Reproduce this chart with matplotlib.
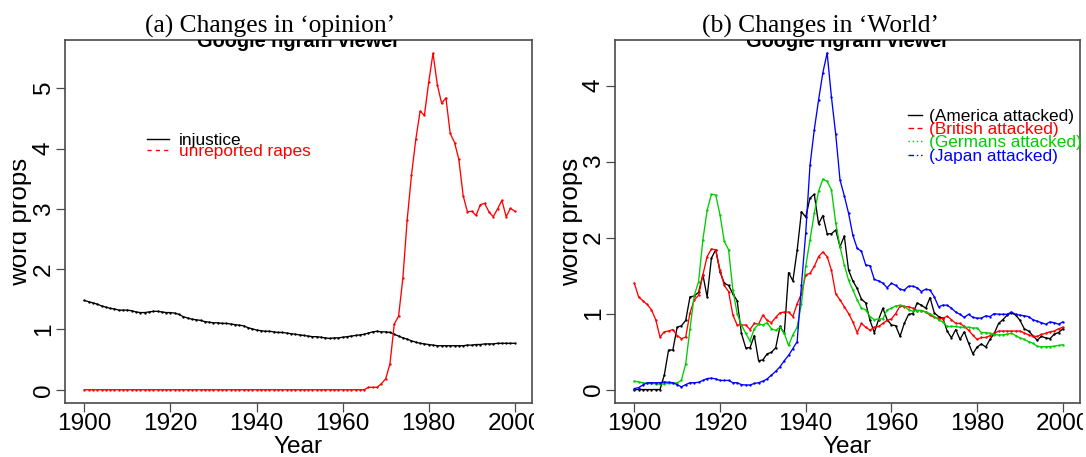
import matplotlib
matplotlib.use("Agg")
import matplotlib.pyplot as plt
from matplotlib.lines import Line2D
from matplotlib.patches import Rectangle

# ---------------------------------------------------------------- data
years = list(range(1900, 2001))

injustice = [
    1.48, 1.46, 1.44, 1.42, 1.39, 1.37, 1.35, 1.34, 1.32, 1.32,
    1.32, 1.31, 1.29, 1.28, 1.28, 1.29, 1.30, 1.30, 1.29, 1.28,
    1.28, 1.27, 1.25, 1.21, 1.19, 1.17, 1.16, 1.15, 1.13, 1.12,
    1.11, 1.11, 1.10, 1.10, 1.09, 1.08, 1.07, 1.06, 1.03, 1.01,
    0.99, 0.98, 0.97, 0.97, 0.96, 0.95, 0.95, 0.94, 0.93, 0.92,
    0.91, 0.90, 0.89, 0.88, 0.88, 0.87, 0.86, 0.85, 0.86, 0.86,
    0.87, 0.88, 0.89, 0.90, 0.91, 0.92, 0.94, 0.96, 0.97, 0.96,
    0.96, 0.95, 0.92, 0.89, 0.86, 0.84, 0.81, 0.79, 0.77, 0.76,
    0.75, 0.74, 0.73, 0.73, 0.73, 0.73, 0.73, 0.73, 0.73, 0.74,
    0.74, 0.75, 0.75, 0.76, 0.76, 0.76, 0.77, 0.77, 0.77, 0.77,
    0.77,
]

unreported_rapes = [0.0] * 66 + [
    0.04, 0.04, 0.04, 0.10,
    0.18, 0.43, 1.09, 1.22, 1.85, 2.82, 3.56, 4.15, 4.62, 4.55,
    5.10, 5.58, 5.06, 4.75, 4.84, 4.25, 4.10, 3.82, 3.22, 2.95,
    2.96, 2.89, 3.07, 3.09, 2.95, 2.87, 3.00, 3.14, 2.87, 3.01,
    2.96,
]

america_attacked = [
    0.00, 0.00, 0.00, 0.00, 0.00, 0.00, 0.00, 0.19, 0.52, 0.52,
    0.82, 0.84, 0.91, 1.22, 1.23, 1.28, 1.51, 1.22, 1.73, 1.84,
    1.55, 1.40, 1.37, 1.26, 1.17, 0.74, 0.55, 0.55, 0.71, 0.38,
    0.39, 0.47, 0.49, 0.55, 0.83, 0.74, 1.54, 1.43, 1.83, 2.34,
    2.27, 2.52, 2.57, 2.18, 2.29, 2.05, 2.05, 2.10, 1.88, 2.02,
    1.57, 1.43, 1.33, 1.19, 1.14, 0.91, 0.75, 0.92, 1.07, 0.92,
    0.85, 0.84, 0.70, 0.87, 0.99, 1.00, 1.14, 1.11, 1.07, 1.21,
    1.01, 0.96, 0.94, 0.77, 0.68, 0.79, 0.66, 0.76, 0.61, 0.47,
    0.56, 0.60, 0.56, 0.66, 0.74, 0.87, 0.92, 0.98, 1.01, 0.98,
    0.91, 0.80, 0.77, 0.71, 0.65, 0.70, 0.68, 0.67, 0.73, 0.75,
    0.80,
]

british_attacked = [
    1.40, 1.22, 1.17, 1.12, 1.05, 0.92, 0.69, 0.76, 0.77, 0.79,
    0.71, 0.67, 0.69, 1.01, 1.18, 1.24, 1.51, 1.75, 1.85, 1.84,
    1.57, 1.37, 1.29, 0.98, 0.85, 0.85, 0.85, 0.79, 0.87, 0.86,
    0.98, 0.91, 0.88, 0.95, 1.01, 1.02, 1.02, 0.96, 1.13, 1.26,
    1.51, 1.53, 1.62, 1.75, 1.81, 1.75, 1.57, 1.26, 1.18, 1.09,
    1.00, 0.89, 0.75, 0.87, 0.82, 0.78, 0.82, 0.83, 0.87, 0.91,
    0.93, 1.00, 1.10, 1.09, 1.09, 1.07, 1.04, 1.04, 1.02, 0.98,
    0.95, 0.935, 0.935, 0.965, 0.92, 0.87, 0.87, 0.83, 0.78, 0.715,
    0.66, 0.685, 0.685, 0.71, 0.74, 0.77, 0.77, 0.77, 0.77, 0.77,
    0.77, 0.745, 0.72, 0.70, 0.70, 0.725, 0.74, 0.76, 0.77, 0.80,
    0.82,
]

germans_attacked = [
    0.11, 0.10, 0.09, 0.08, 0.08, 0.075, 0.07, 0.075, 0.08, 0.08,
    0.09, 0.12, 0.34, 0.80, 1.24, 1.42, 1.97, 2.36, 2.57, 2.56,
    2.30, 1.95, 1.84, 1.31, 1.00, 0.85, 0.74, 0.64, 0.80, 0.86,
    0.85, 0.88, 0.80, 0.78, 0.82, 0.74, 0.58, 0.72, 0.82, 1.13,
    1.62, 1.97, 2.32, 2.61, 2.77, 2.74, 2.63, 2.19, 1.88, 1.64,
    1.44, 1.31, 1.18, 1.07, 1.05, 0.96, 0.92, 0.93, 0.93, 1.05,
    1.07, 1.10, 1.11, 1.10, 1.05, 1.03, 1.04, 1.04, 1.02, 1.00,
    0.96, 0.92, 0.89, 0.83, 0.83, 0.83, 0.82, 0.82, 0.82, 0.81,
    0.81, 0.75, 0.75, 0.74, 0.72, 0.72, 0.72, 0.73, 0.74, 0.71,
    0.68, 0.66, 0.63, 0.61, 0.57, 0.56, 0.565, 0.565, 0.57, 0.58,
    0.59,
]

japan_attacked = [
    0.013, 0.025, 0.06, 0.09, 0.09, 0.09, 0.09, 0.10, 0.095, 0.09,
    0.065, 0.035, 0.065, 0.09, 0.09, 0.095, 0.12, 0.145, 0.15, 0.14,
    0.12, 0.12, 0.12, 0.09, 0.09, 0.065, 0.06, 0.06, 0.08, 0.09,
    0.11, 0.14, 0.19, 0.24, 0.30, 0.38, 0.45, 0.54, 0.63, 1.37,
    2.06, 2.95, 3.42, 3.81, 4.17, 4.43, 3.85, 3.36, 2.76, 2.55,
    2.32, 2.03, 1.86, 1.82, 1.64, 1.63, 1.45, 1.43, 1.40, 1.34,
    1.40, 1.37, 1.32, 1.31, 1.36, 1.36, 1.34, 1.29, 1.32, 1.31,
    1.22, 1.09, 1.11, 1.11, 1.07, 1.02, 0.99, 0.95, 0.99, 0.95,
    0.94, 0.94, 0.97, 0.96, 1.00, 0.99, 0.99, 0.99, 1.02, 0.99,
    0.98, 0.97, 0.96, 0.92, 0.90, 0.88, 0.86, 0.89, 0.88, 0.86,
    0.89,
]

x_ticks = [1900, 1920, 1940, 1960, 1980, 2000]
left_y_ticks = [0, 1, 2, 3, 4, 5]
right_y_ticks = [0, 1, 2, 3, 4]

left_series = [("injustice", injustice, "black", "-"),
               ("unreported rapes", unreported_rapes, "#FF0000", (0, (3, 3)))]
right_series = [("(America attacked)", america_attacked, "black", "-"),
                ("(British attacked)", british_attacked, "#FF0000", (0, (4, 2.5))),
                ("(Germans attacked)", germans_attacked, "#00CD00", (0, (1, 2))),
                ("(Japan attacked)", japan_attacked, "#0000FF", (0, (4, 2, 1, 2)))]

# ---------------------------------------------------------------- figure
W, H = 1086, 457
fig = plt.figure(figsize=(W / 100, H / 100), dpi=100)
SANS = "Liberation Sans"
SERIF = "Liberation Serif"
FRAME = "#4a4a4a"
TICK_FS = 17.6
LEG_FS = 12.4


def px_rect(x0, y0, x1, y1):
    return [x0 / W, 1 - y1 / H, (x1 - x0) / W, (y1 - y0) / H]


def style_axes(ax, yticks, ylim):
    ax.set_xlim(1895.5, 2004.0)
    ax.set_ylim(*ylim)
    ax.set_xticks(x_ticks)
    ax.set_xticklabels([str(t) for t in x_ticks])
    ax.set_yticks(yticks)
    ax.set_yticklabels([str(t) for t in yticks])
    for sp in ax.spines.values():
        sp.set_color(FRAME)
        sp.set_linewidth(1.2)
    ax.tick_params(axis="both", direction="out", length=6.5, width=0.9,
                   color=FRAME, labelsize=TICK_FS, pad=0.8)
    ax.tick_params(axis="y", labelrotation=90)
    for lab in ax.get_xticklabels() + ax.get_yticklabels():
        lab.set_family(SANS)
    for lab in ax.get_yticklabels():
        lab.set_va("center")
    ax.text(0.5, 0.9818, "Google ngram viewer", transform=ax.transAxes,
            ha="center", va="baseline", fontsize=14.4, fontweight="bold",
            family=SANS, clip_on=True)


def plot_series(ax, series):
    for label, vals, color, _ in series:
        ax.plot(years, vals, color=color, lw=0.95, marker="o",
                markersize=1.7, markeredgewidth=0, label=label)


def add_legend(ax, series, x_px, top_px, hlen, hpad, spacing):
    handles = [Line2D([], [], color=c, lw=1.0, ls=ls) for _, _, c, ls in series]
    labels = [s[0] for s in series]
    ax.legend(handles, labels, loc="upper left",
              bbox_to_anchor=(x_px / W, 1 - top_px / H),
              bbox_transform=fig.transFigure, frameon=False,
              borderpad=0, borderaxespad=0, handlelength=hlen,
              handletextpad=hpad, labelspacing=spacing,
              prop={"family": SANS, "size": LEG_FS},
              labelcolor=[s[2] for s in series])


# (a) left panel
ax1 = fig.add_axes(px_rect(65, 40, 532, 403))
plot_series(ax1, left_series)
style_axes(ax1, left_y_ticks, (-0.22, 5.80))
add_legend(ax1, left_series, 147, 133, 1.27, 0.6, -0.25)

# (b) right panel
ax2 = fig.add_axes(px_rect(615, 40, 1080, 403))
plot_series(ax2, right_series)
style_axes(ax2, right_y_ticks, (-0.177, 4.60))
add_legend(ax2, right_series, 908, 109, 0.8, 0.4, -0.11)

# axis labels
for ax_left, ax_right, ylab_x in ((65, 532, 26.7), (615, 1080, 578)):
    cx = (ax_left + ax_right) / 2
    fig.text(cx / W, 1 - 453 / H, "Year", ha="center", va="baseline",
             fontsize=TICK_FS, family=SANS)
    fig.text(ylab_x / W, 1 - 221.5 / H, "word props", rotation=90,
             ha="center", va="baseline", rotation_mode="anchor",
             fontsize=18.6, family=SANS)

# subfigure trims: each panel image is cut at its own edges
for x0, x1 in ((0, 13), (534, 563), (1083, W)):
    fig.add_artist(Rectangle((x0 / W, 0), (x1 - x0) / W, 1,
                             transform=fig.transFigure, facecolor="white",
                             edgecolor="none", zorder=10))

# panel captions
fig.text(270 / W, 1 - 32.5 / H, "(a) Changes in \u2018opinion\u2019",
         ha="center", va="baseline", fontsize=18.4, family=SERIF, zorder=11)
fig.text(820.5 / W, 1 - 32.5 / H, "(b) Changes in \u2018World\u2019",
         ha="center", va="baseline", fontsize=18.4, family=SERIF, zorder=11)

fig.savefig("out.png", dpi=100, facecolor="white")
